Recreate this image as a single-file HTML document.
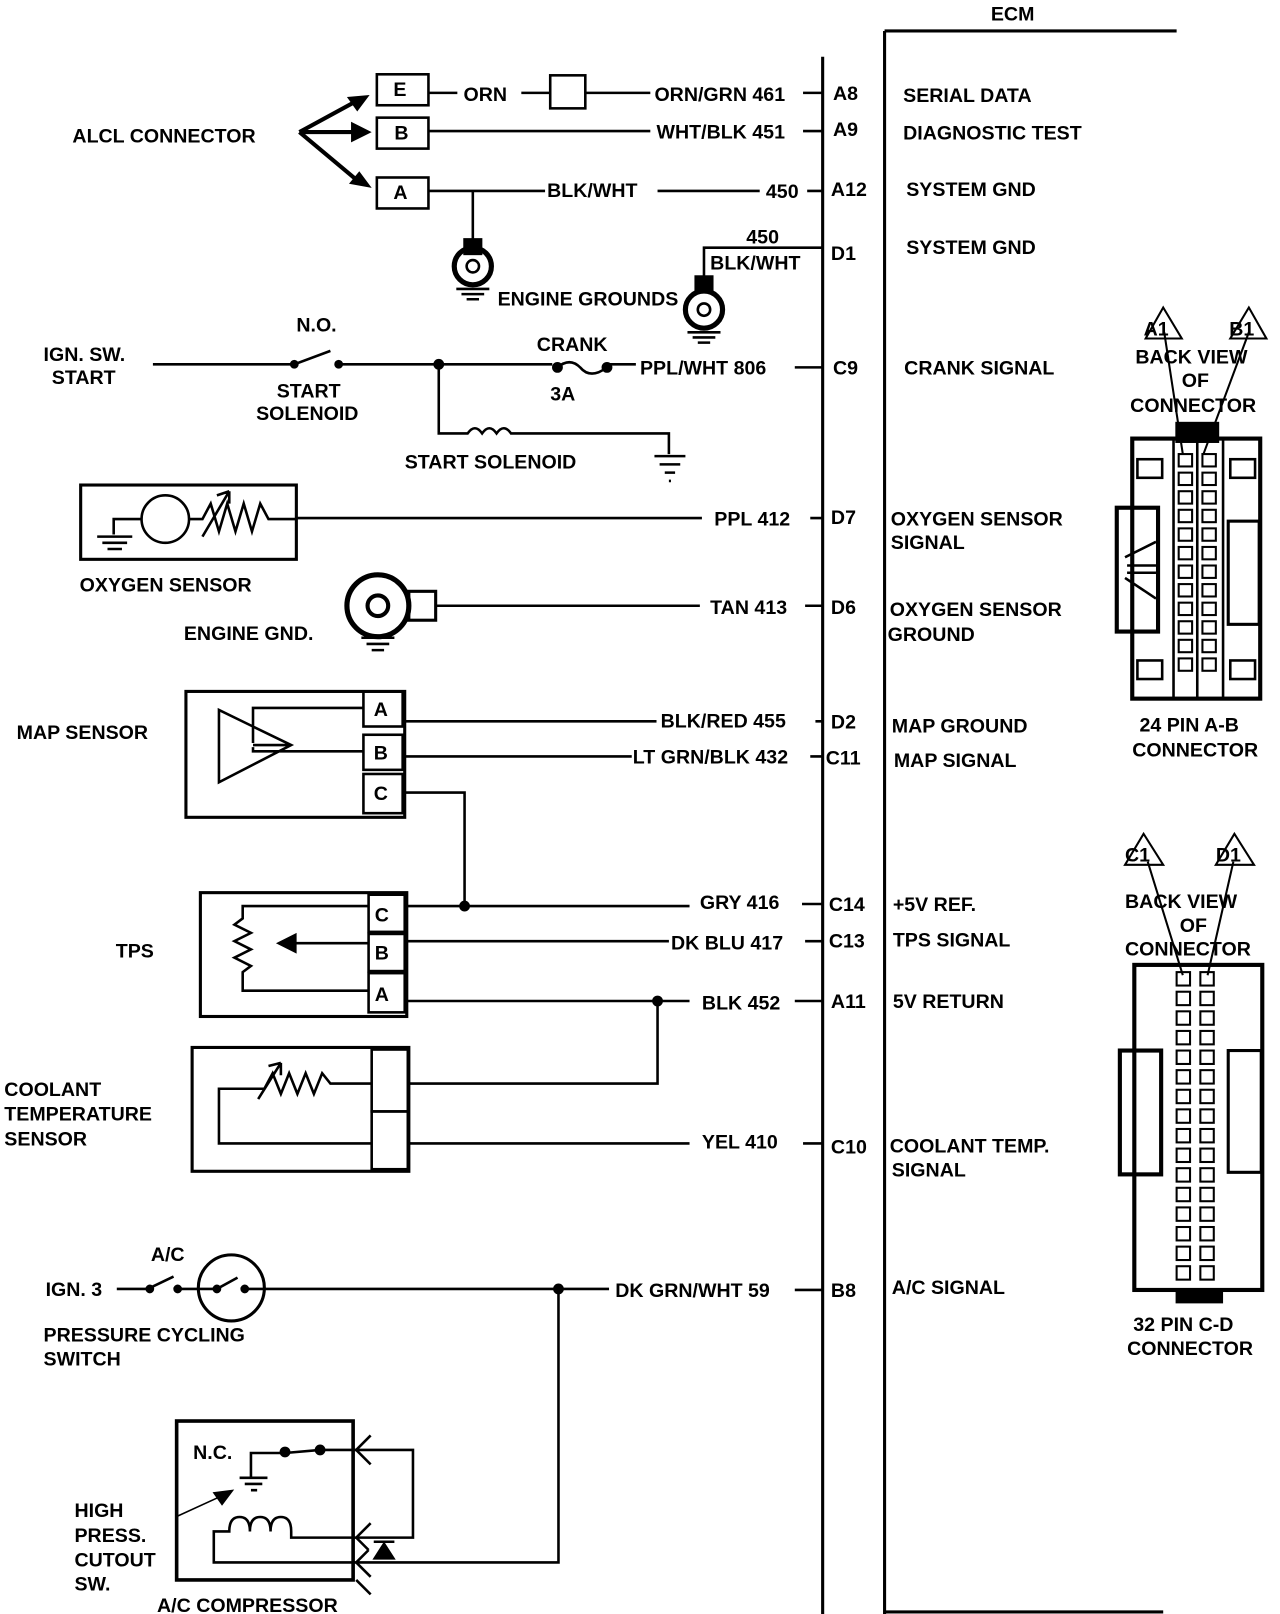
<!DOCTYPE html>
<html><head><meta charset="utf-8"><style>
html,body{margin:0;padding:0;background:#fff;}
svg{display:block;}
text{font-family:"Liberation Sans",sans-serif;font-weight:bold;font-size:19px;fill:#000;}
</style></head><body>
<svg width="1280" height="1614" viewBox="0 0 1240 1564" xmlns="http://www.w3.org/2000/svg">
<g fill="none" stroke="#000" stroke-width="2.5">
<!-- ECM -->
<path d="M857 30 H1140 M857 30 V1564 M797 55 V1564 M857 1562 H1127" stroke-width="3"/>
<!-- ALCL -->
<rect x="365" y="72" width="50" height="30"/><rect x="365" y="114" width="50" height="30"/><rect x="365" y="172" width="50" height="30"/>
<rect x="533" y="73" width="34" height="32"/>
<path d="M415 90 H443 M505 90 H533 M567 90 H630 M778 90 H797"/>
<path d="M415 127 H630 M778 127 H797"/>
<path d="M415 185 H528 M637 185 H736 M782 185 H797"/>
<path d="M290 128 L345 98 M290 128 H345 M290 128 L345 174" stroke-width="4"/>
<path d="M458 185 V232"/>
<circle cx="458" cy="258" r="18" stroke-width="5"/><circle cx="458" cy="258" r="6"/>
<rect x="450" y="232" width="16" height="14" fill="#000"/>
<path d="M442 280 H474 M447 285 H469 M452 290 H464"/>
<path d="M797 240 H682 V268"/>
<circle cx="682" cy="300" r="18" stroke-width="5"/><circle cx="682" cy="300" r="6"/>
<rect x="674" y="268" width="16" height="14" fill="#000"/>
<path d="M666 322 H698 M671 327 H693 M676 332 H688"/>
<!-- crank -->
<path d="M148 353 H285 L320 340 M328 353 H535 M590 353 H616 M770 356 H797"/>
<circle cx="285" cy="353" r="3" fill="#000"/><circle cx="328" cy="353" r="3" fill="#000"/>
<circle cx="425" cy="353" r="4" fill="#000"/>
<circle cx="540" cy="356" r="4" fill="#000"/><circle cx="588" cy="356" r="4" fill="#000"/>
<path d="M540 356 Q552 346 562 356 Q572 368 588 356"/>
<path d="M425 353 V420 H453 Q460 410 467 420 Q474 410 481 420 Q488 410 495 420 H648 V440"/>
<path d="M634 442 H664 M639 450 H659 M644 458 H654 M648 466 H650"/>
<!-- O2 -->
<rect x="78" y="470" width="209" height="72" stroke-width="3"/>
<circle cx="160" cy="503" r="23"/>
<path d="M287 502 H680 M785 502 H797 M183 503 H196 L204 488 L212 515 L220 488 L228 515 L236 488 L244 515 L252 488 L260 503 H287 M137 503 H110 V518 M94 520 H128 M99 526 H123 M104 532 H118 M196 520 L222 476 M222 476 l-12 4 M222 476 l0 12"/>
<!-- engine gnd -->
<circle cx="366" cy="587" r="30" stroke-width="5"/><circle cx="366" cy="587" r="10" stroke-width="4"/>
<rect x="396" y="573" width="26" height="28" stroke-width="3"/>
<path d="M422 587 H678 M780 587 H797"/>
<path d="M350 618 H382 M355 624 H377 M360 630 H372"/>
<!-- MAP -->
<rect x="180" y="670" width="212" height="122" stroke-width="3"/>
<rect x="352" y="670" width="38" height="34"/><rect x="352" y="712" width="38" height="34"/><rect x="352" y="750" width="38" height="38"/>
<path d="M212 688 V758 L282 722 Z M245 720 V686 H352 M245 724 V728 H352 M282 722 H245"/>
<path d="M390 699 H636 M790 699 H797 M390 733 H612 M785 733 H797 M390 768 H450 V878"/>
<!-- TPS -->
<rect x="194" y="865" width="200" height="120" stroke-width="3"/>
<rect x="357" y="867" width="35" height="36"/><rect x="357" y="905" width="35" height="36"/><rect x="357" y="943" width="35" height="38"/>
<path d="M357 878 H235 V890 l-8 6 16 8 -16 8 16 8 -16 8 16 8 -8 6 V960 H357 M357 914 H270"/>
<path d="M270 914 l16 -8 v16 z" fill="#000"/>
<circle cx="450" cy="878" r="4" fill="#000"/>
<path d="M392 878 H668 M777 876 H797 M392 912 H648 M780 912 H797 M392 970 H668 M770 970 H797"/>
<circle cx="637" cy="970" r="4" fill="#000"/>
<path d="M637 970 V1050 H395"/>
<!-- coolant -->
<rect x="186" y="1015" width="210" height="120" stroke-width="3"/>
<rect x="360" y="1017" width="35" height="60"/><rect x="360" y="1077" width="35" height="56"/>
<path d="M360 1050 H320 L312 1040 304 1060 296 1040 288 1060 280 1040 272 1060 264 1040 256 1055 H212 V1108 H360 M250 1065 L272 1030 M272 1030 l-12 3 M272 1030 l0 12"/>
<path d="M395 1108 H668 M778 1108 H797"/>
<!-- A/C -->
<path d="M113 1249 H143 L168 1237 M175 1249 H210 L230 1238 M237 1249 H590 M770 1250 H797"/>
<circle cx="145" cy="1249" r="3" fill="#000"/><circle cx="172" cy="1249" r="3" fill="#000"/>
<circle cx="224" cy="1248" r="32" stroke-width="3"/>
<circle cx="210" cy="1249" r="3" fill="#000"/><circle cx="237" cy="1249" r="3" fill="#000"/>
<circle cx="541" cy="1249" r="4" fill="#000"/>
<path d="M541 1249 V1514 H345"/>
<rect x="171" y="1377" width="171" height="154" stroke-width="3.5"/>
<path d="M243 1432 V1408 H276 L310 1405 H345"/>
<circle cx="276" cy="1407" r="4" fill="#000"/><circle cx="310" cy="1405" r="4" fill="#000"/>
<path d="M232 1432 H259 M237 1438 H254 M243 1444 H249"/>
<path d="M170 1470 L218 1448" stroke-width="1.5"/>
<path d="M224 1445 l-16 2 7 10 z" fill="#000"/>
<path d="M207 1496 V1484 H222 q0 -14 10 -14 t10 14 q0 -14 10 -14 t10 14 q0 -14 10 -14 t10 14 V1490 H345 M207 1496 V1514 H345"/>
<path d="M345 1405 H400 V1490 H345"/>
<path d="M345 1405 l14 -14 M345 1405 l14 14 M345 1490 l14 -14 M345 1490 l12 12 M345 1514 l12 -12 M345 1514 l14 14 M345 1531 l14 14"/>
<path d="M362 1494 H382"/><path d="M372 1496 l-9 14 h18 z" fill="#000"/>
<!-- 24 pin connector -->
<path d="M1127 298 L1110 328 H1145 Z M1210 298 L1192 328 H1227 Z" stroke-width="2"/>
<path d="M1128 322 L1146 440 M1210 322 L1166 440" stroke-width="2"/>
<rect x="1097" y="425" width="124" height="252" stroke-width="4"/>
<rect x="1082" y="492" width="40" height="120" stroke-width="4"/>
<rect x="1190" y="505" width="30" height="100" stroke-width="3"/>
<rect x="1140" y="410" width="40" height="18" fill="#000"/>
<path d="M1137 425 V677 M1185 425 V677 M1160 425 V677"/>
<rect x="1102" y="445" width="24" height="18"/><rect x="1192" y="445" width="24" height="18"/>
<rect x="1102" y="640" width="24" height="18"/><rect x="1192" y="640" width="24" height="18"/>
<path d="M1090 540 L1120 525 M1090 560 L1120 580 M1092 548 H1120 M1092 555 H1120"/>
</g>
<!-- ALCL arrowheads -->
<path d="M358 92 L336 94 L346 108 Z M360 128 L340 118 V138 Z M360 182 L338 178 L348 166 Z" fill="#000"/>
<g fill="none" stroke="#000" stroke-width="2">
<g id="c24">
<rect x="1142" y="440" width="13" height="12"/><rect x="1165" y="440" width="13" height="12"/>
<rect x="1142" y="458" width="13" height="12"/><rect x="1165" y="458" width="13" height="12"/>
<rect x="1142" y="476" width="13" height="12"/><rect x="1165" y="476" width="13" height="12"/>
<rect x="1142" y="494" width="13" height="12"/><rect x="1165" y="494" width="13" height="12"/>
<rect x="1142" y="512" width="13" height="12"/><rect x="1165" y="512" width="13" height="12"/>
<rect x="1142" y="530" width="13" height="12"/><rect x="1165" y="530" width="13" height="12"/>
</g>
<use href="#c24" y="108"/>
<path d="M1108 808 L1090 838 H1127 Z M1196 808 L1178 838 H1215 Z"/>
<path d="M1112 835 L1146 945 M1195 835 L1170 945"/>
<rect x="1099" y="935" width="124" height="315" stroke-width="4"/>
<rect x="1085" y="1018" width="40" height="120" stroke-width="4"/>
<rect x="1190" y="1018" width="32" height="118" stroke-width="3"/>
<rect x="1140" y="1250" width="44" height="12" fill="#000"/>
<g id="c32">
<rect x="1140" y="942" width="13" height="13"/><rect x="1163" y="942" width="13" height="13"/>
<rect x="1140" y="961" width="13" height="13"/><rect x="1163" y="961" width="13" height="13"/>
<rect x="1140" y="980" width="13" height="13"/><rect x="1163" y="980" width="13" height="13"/>
<rect x="1140" y="999" width="13" height="13"/><rect x="1163" y="999" width="13" height="13"/>
</g>
<use href="#c32" y="76"/><use href="#c32" y="152"/><use href="#c32" y="228"/>
</g>
<!-- labels -->
<text x="960" y="20" font-size="23">ECM</text>
<text x="381" y="93" font-size="16">E</text><text x="382" y="135" font-size="16">B</text><text x="381" y="193" font-size="16">A</text>
<text x="449" y="98">ORN</text>
<text x="634" y="98">ORN/GRN 461</text>
<text x="636" y="134">WHT/BLK 451</text>
<text x="530" y="191">BLK/WHT</text>
<text x="742" y="192">450</text>
<text x="70" y="138">ALCL CONNECTOR</text>
<text x="723" y="236">450</text>
<text x="688" y="261">BLK/WHT</text>
<text x="482" y="296">ENGINE GROUNDS</text>
<text x="807" y="97">A8</text><text x="807" y="132">A9</text><text x="805" y="190">A12</text><text x="805" y="252">D1</text>
<text x="807" y="363">C9</text><text x="805" y="508">D7</text><text x="805" y="595">D6</text><text x="805" y="706">D2</text>
<text x="800" y="741">C11</text><text x="803" y="883">C14</text><text x="803" y="918">C13</text><text x="805" y="977">A11</text>
<text x="805" y="1118">C10</text><text x="805" y="1257">B8</text>
<text x="875" y="99">SERIAL DATA</text><text x="875" y="135">DIAGNOSTIC TEST</text>
<text x="878" y="190">SYSTEM GND</text><text x="878" y="246">SYSTEM GND</text>
<text x="876" y="363">CRANK SIGNAL</text>
<text x="863" y="509">OXYGEN SENSOR</text><text x="863" y="532">SIGNAL</text>
<text x="862" y="597">OXYGEN SENSOR</text><text x="860" y="621">GROUND</text>
<text x="864" y="710">MAP GROUND</text><text x="866" y="743">MAP SIGNAL</text>
<text x="865" y="883">+5V REF.</text><text x="865" y="917">TPS SIGNAL</text><text x="865" y="977">5V RETURN</text>
<text x="862" y="1117">COOLANT TEMP.</text><text x="864" y="1140">SIGNAL</text>
<text x="864" y="1254">A/C SIGNAL</text>
<text x="287" y="321">N.O.</text>
<text x="42" y="350">IGN. SW.</text><text x="50" y="372">START</text>
<text x="268" y="385">START</text><text x="248" y="407">SOLENOID</text>
<text x="520" y="340">CRANK</text><text x="533" y="388">3A</text>
<text x="620" y="363">PPL/WHT 806</text>
<text x="392" y="454">START SOLENOID</text>
<text x="692" y="509">PPL 412</text>
<text x="77" y="573">OXYGEN SENSOR</text>
<text x="688" y="595">TAN 413</text>
<text x="178" y="620">ENGINE GND.</text>
<text x="16" y="716">MAP SENSOR</text>
<text x="362" y="694" font-size="17">A</text><text x="362" y="736" font-size="17">B</text><text x="362" y="775" font-size="17">C</text>
<text x="640" y="705">BLK/RED 455</text>
<text x="613" y="740">LT GRN/BLK 432</text>
<text x="678" y="881">GRY 416</text>
<text x="650" y="920">DK BLU 417</text>
<text x="680" y="978">BLK 452</text>
<text x="112" y="928">TPS</text>
<text x="363" y="893" font-size="17">C</text><text x="363" y="930" font-size="17">B</text><text x="363" y="970" font-size="17">A</text>
<text x="4" y="1062">COOLANT</text><text x="4" y="1086">TEMPERATURE</text><text x="4" y="1110">SENSOR</text>
<text x="680" y="1113">YEL 410</text>
<text x="146" y="1222">A/C</text>
<text x="44" y="1256">IGN. 3</text>
<text x="596" y="1257">DK GRN/WHT 59</text>
<text x="42" y="1300">PRESSURE CYCLING</text><text x="42" y="1323">SWITCH</text>
<text x="187" y="1414">N.C.</text>
<text x="72" y="1470">HIGH</text><text x="72" y="1494">PRESS.</text><text x="72" y="1518">CUTOUT</text><text x="72" y="1541">SW.</text>
<text x="152" y="1562">A/C COMPRESSOR</text>
<text x="1108" y="325" font-size="17">A1</text><text x="1191" y="325" font-size="17">B1</text>
<text x="1100" y="352">BACK VIEW</text><text x="1145" y="375">OF</text><text x="1095" y="399">CONNECTOR</text>
<text x="1104" y="709">24 PIN A-B</text><text x="1097" y="733">CONNECTOR</text>
<text x="1090" y="835" font-size="17">C1</text><text x="1178" y="835" font-size="17">D1</text>
<text x="1090" y="880">BACK VIEW</text><text x="1143" y="903">OF</text><text x="1090" y="926">CONNECTOR</text>
<text x="1098" y="1290">32 PIN C-D</text><text x="1092" y="1313">CONNECTOR</text>
</svg>
</body></html>
